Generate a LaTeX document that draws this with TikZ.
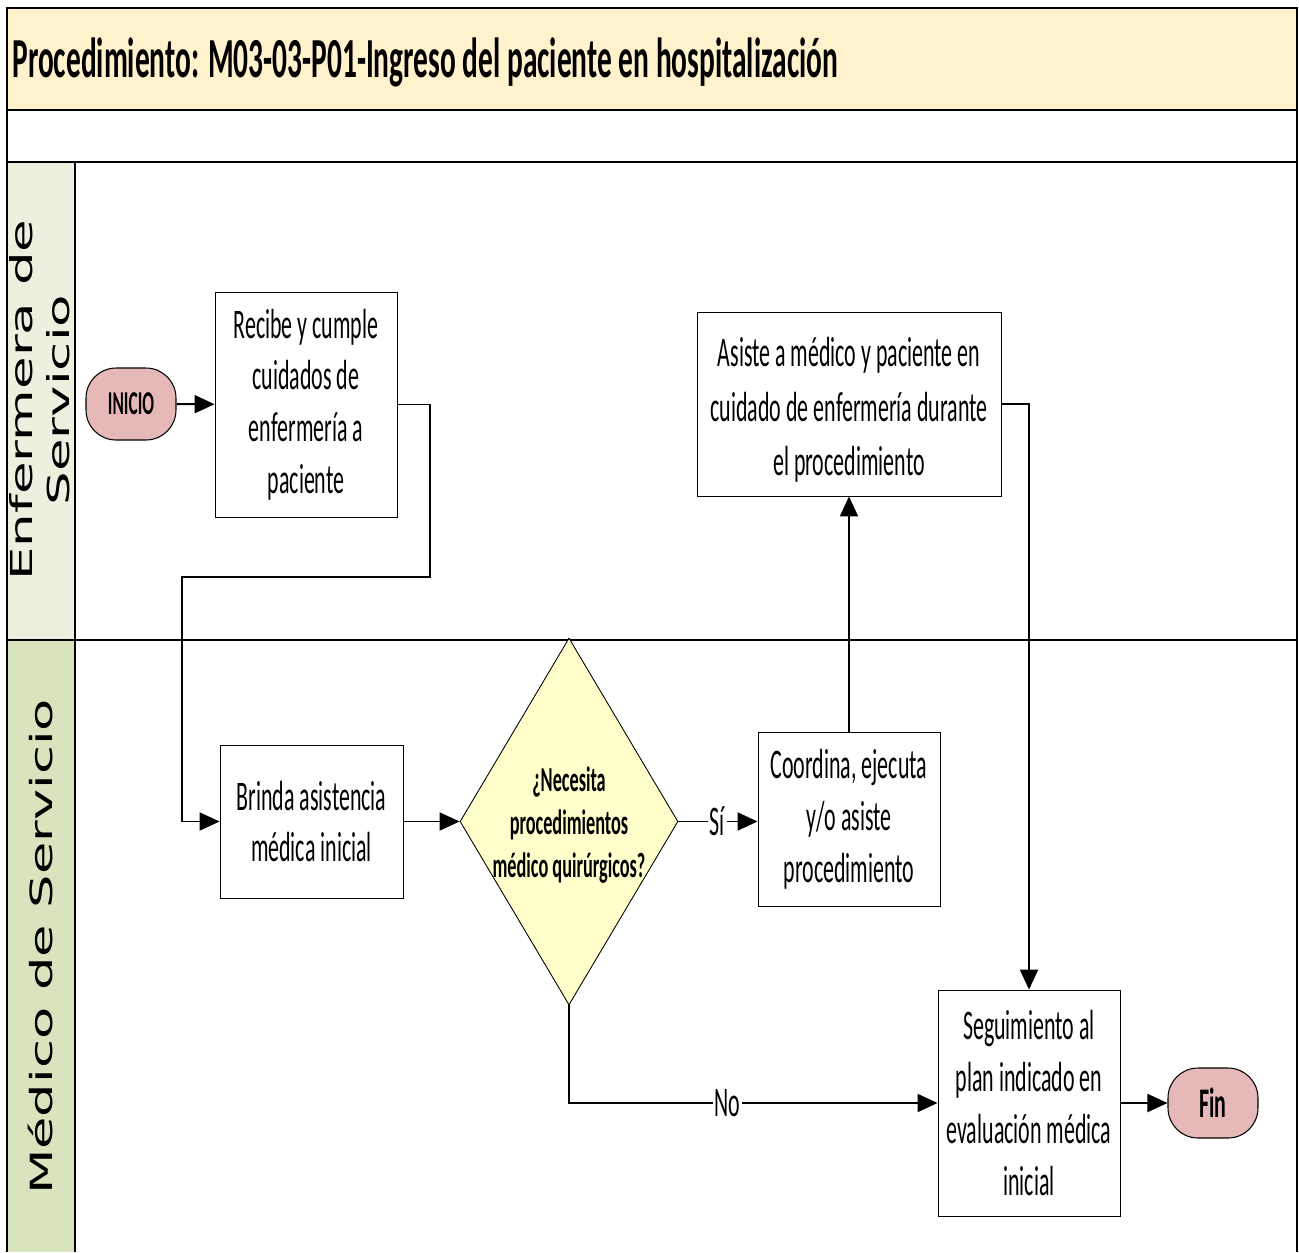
\documentclass[tikz,border=0pt]{standalone}
\usepackage{fontspec}
\usetikzlibrary{arrows.meta,shapes.geometric}
\newfontfamily\narrowfont[FakeStretch=0.52]{Carlito}
\newfontfamily\lanefont{DejaVu Sans}
\definecolor{titlefill}{HTML}{FFF2CC}
\definecolor{lanea}{HTML}{EBF1DE}
\definecolor{laneb}{HTML}{D7E4BD}
\definecolor{termfill}{HTML}{E6B8B7}
\definecolor{decfill}{HTML}{FFFFCC}
\begin{document}
\begin{tikzpicture}[x=0.02cm,y=-0.02cm,
  frame/.style={line width=1.6pt},
  proc/.style={draw, line width=0.5pt, fill=white, align=center, inner sep=0pt, font=\narrowfont\fontsize{24}{29.5}\selectfont},
  term/.style={draw, line width=0.6pt, fill=termfill, rounded corners=0.6cm, minimum width=1.8cm, minimum height=1.44cm, inner sep=0pt},
  dia/.style={diamond, draw, line width=0.5pt, fill=decfill, minimum width=4.36cm, minimum height=7.34cm, inner sep=0pt},
  dectxt/.style={align=center, inner sep=0pt, font=\narrowfont\bfseries\fontsize{20}{24.4}\selectfont},
  arr/.style={line width=1.1pt, -{Triangle[length=0.4cm,width=0.36cm]}},
  lbl/.style={fill=white, inner sep=1pt, font=\narrowfont\fontsize{24}{29}\selectfont},
  lanetxt/.style={rotate=90, inner sep=0pt, anchor=base}
]
\useasboundingbox (0,0) rectangle (1299,1252);
% backgrounds
\fill[titlefill] (7,8) rectangle (1297,110);
\fill[lanea] (7,162) rectangle (75,640);
\fill[laneb] (7,640) rectangle (75,1252);
\draw[line width=0.8pt] (75,162) -- (75,1252);
\draw[frame] (7,110) -- (1297,110);
\draw[frame] (7,162) -- (1297,162);
\draw[frame] (7,640) -- (1297,640);
\draw[frame] (7,1252) -- (7,8) -- (1297,8) -- (1297,1252);

% title
\node[anchor=base west, inner sep=0pt, font=\narrowfont\bfseries\fontsize{32.2}{38}\selectfont] (title) at (12,77) {Procedimiento: M03-03-P01-Ingreso del paciente en hospitalización};

% lane labels
\node[lanetxt] (lane1a) at (32,400) {\scalebox{1}[0.57]{\lanefont\fontsize{30.2}{32}\selectfont Enfermera de}};
\node[lanetxt] (lane1b) at (70,400) {\scalebox{1}[0.57]{\lanefont\fontsize{30.2}{32}\selectfont Servicio}};
\node[lanetxt] (lane2) at (52,947) {\scalebox{1}[0.58]{\lanefont\fontsize{30}{32}\selectfont Médico de Servicio}};

% nodes
\node[term, font=\narrowfont\bfseries\fontsize{19}{22}\selectfont] (inicio) at (131,404) {INICIO};
\node[proc, minimum width=3.64cm, minimum height=4.5cm] (b1) at (306,404.5) {Recibe y cumple\\cuidados de\\enfermería a\\paciente};
\node[proc, minimum width=3.66cm, minimum height=3.06cm] (b2) at (311.5,821.5) {Brinda asistencia\\médica inicial};
\node[dia, label={[dectxt, yshift=-0.07cm]center:{¿Necesita\\procedimientos\\médico quirúrgicos?}}] (dec) at (569,821.5) {};
\node[proc, minimum width=3.64cm, minimum height=3.48cm] (b3) at (849,819) {Coordina, ejecuta\\y/o asiste\\procedimiento};
\node[proc, minimum width=6.08cm, minimum height=3.68cm, font=\narrowfont\fontsize{24}{31}\selectfont] (b4) at (849,404) {\raisebox{-0.12cm}[\height][\depth]{\parbox{5.9cm}{\centering Asiste a médico y paciente en\\cuidado de enfermería durante\\el procedimiento}}};
\node[proc, minimum width=3.64cm, minimum height=4.52cm] (b5) at (1029,1103) {Seguimiento al\\plan indicado en\\evaluación médica\\inicial};
\node[term, minimum height=1.4cm, font=\narrowfont\bfseries\fontsize{24}{28}\selectfont] (fin) at (1213,1103) {Fin};

% connectors
\coordinate (k1) at (430,577);
\coordinate (k2) at (182,577);
\draw[arr] (inicio) -- (b1);
\draw[arr] (b1.east) -| (k1) -- (k2) |- (b2.west);
\draw[arr] (b2) -- (dec);
\draw[arr] (dec.east) -- node[lbl, pos=0.49] (si) {Sí} (dec.east -| b3.west);
\draw[arr] (b3.north) -- (b4.south);
\draw[arr] (b4.east) -| (b5.north);
\draw[arr] (dec.south) |- node[lbl, pos=0.715] (no) {No} (b5.west);
\draw[arr] (b5) -- (fin);
\end{tikzpicture}
\end{document}
